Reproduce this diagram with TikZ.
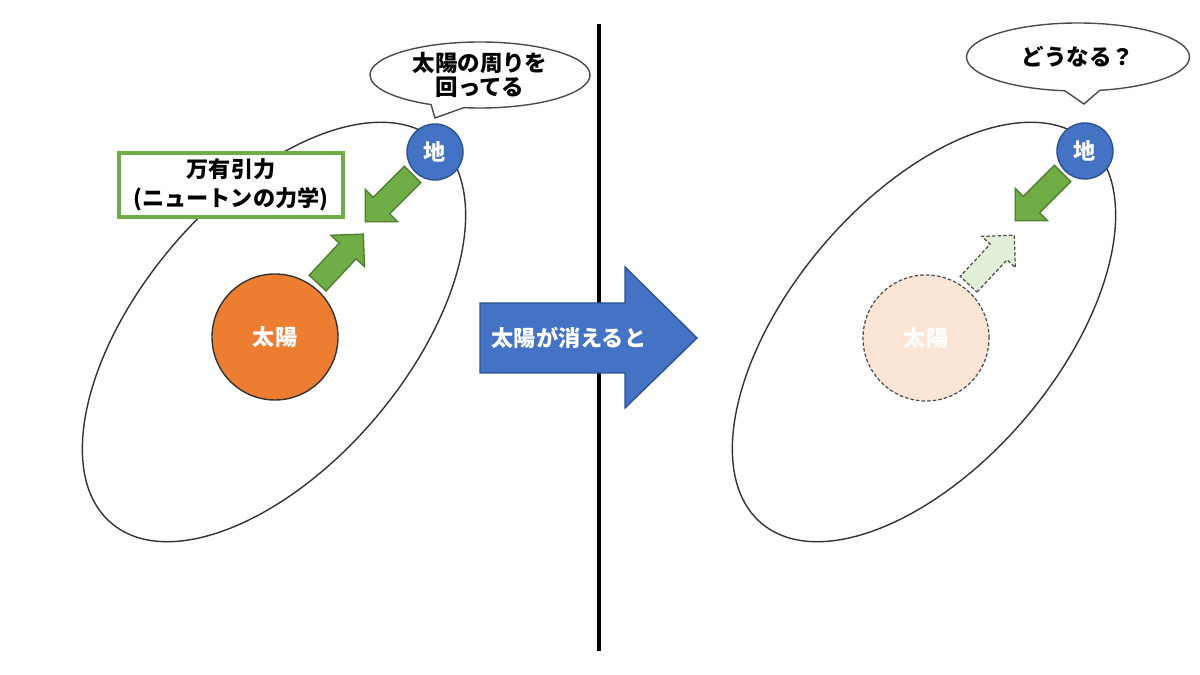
\documentclass[tikz,border=0pt]{standalone}
\usepackage{fontspec}
\setmainfont{Noto Sans CJK JP}
\usepackage{tikz}
\usetikzlibrary{shapes.geometric, shapes.callouts, positioning}
\usepackage{xcolor}
\definecolor{sunorange}{HTML}{ED7D31}
\definecolor{sunfaded}{HTML}{FBE5D6}
\definecolor{earthblue}{HTML}{4472C4}
\definecolor{earthedge}{HTML}{2F528F}
\definecolor{forcegreen}{HTML}{70AD47}
\definecolor{forceedge}{HTML}{507E32}
\definecolor{forcefaded}{HTML}{E2F0D9}
\def\leftorbit{ (2.74,3.43) ellipse (2.51 and 1.33)}
\def\rightorbit{(9.24,3.43) ellipse (2.51 and 1.33)}
\def\forcearrow{(0,-0.115) -- (0.44,-0.115) -- (0.44,-0.23) -- (0.67,0) -- (0.44,0.23) -- (0.44,0.115) -- (0,0.115) -- cycle}
\def\bigarrow{(4.80,3.02) -- (6.25,3.02) -- (6.25,2.67) -- (6.97,3.37) -- (6.25,4.08) -- (6.25,3.72) -- (4.80,3.72) -- cycle}
\tikzset{
    jp/.style = {font=\fontsize{6.3}{8.2}\selectfont\bfseries},
    sun/.style = {circle, minimum size=1.26cm, inner sep=0, text=white, jp},
    earth/.style = {circle, minimum size=0.56cm, inner sep=0, fill=earthblue, draw=earthedge, text=white, jp},
    talk/.style = {ellipse callout, draw=black!70, fill=white, inner sep=0, callout pointer arc=18, align=center, font=\fontsize{6.4}{6.6}\selectfont\bfseries},
    gone/.style = {draw=black!70, line width=0.35pt, dash pattern=on 1pt off 0.6pt}
}

\begin{document}
\begin{tikzpicture}[scale = 1.0]
    % Sfondo
    \fill[white] (0,0) rectangle (12,6.75);
    \useasboundingbox (0,0) rectangle (12,6.75);
    % Orbite
    \draw[black!80, line width=0.4pt, rotate around={49.6:(2.74,3.43)}] \leftorbit;
    \draw[black!80, line width=0.4pt, rotate around={49.6:(9.24,3.43)}] \rightorbit;
    % Linea di separazione
    \draw[line width=1.1pt] (5.99,6.51) -- (5.99,0.24);
    % Freccia centrale
    \filldraw[fill=earthblue, draw=earthedge, line width=0.4pt] \bigarrow;
    \node[text=white, jp] (vanish) at (5.69,3.37) {太陽が消えると};
    % Sinistra: sole e terra
    \node[sun, fill=sunorange, draw=black!80] (sunL) at (2.75,3.38) {太陽};
    \filldraw[fill=forcegreen, draw=forceedge, line width=0.4pt, shift={(sunL.52)}, rotate=47, xshift=0.5mm] \forcearrow;
    \node[earth] (earthL) at (4.35,5.23) {地};
    \filldraw[fill=forcegreen, draw=forceedge, line width=0.4pt, shift={(earthL.225)}, rotate=225, xshift=0.3mm] \forcearrow;
    \node[draw=forcegreen, line width=1.2pt, fill=white, minimum width=2.24cm, minimum height=0.64cm, inner sep=0, align=center, jp] (gravity) at (2.31,4.90) {万有引力\\(ニュートンの力学)};
    \node[talk, minimum width=2.2cm, minimum height=0.66cm, callout absolute pointer={(4.35,5.57)}] (talkL) at (4.80,6.00) {太陽の周りを\\回ってる};
    % Destra: sole sparito
    \node[sun, fill=sunfaded, gone] (sunR) at (9.26,3.37) {太陽};
    \filldraw[fill=forcefaded, gone, shift={(sunR.52)}, rotate=47, xshift=0.5mm] \forcearrow;
    \node[earth] (earthR) at (10.85,5.24) {地};
    \filldraw[fill=forcegreen, draw=forceedge, line width=0.4pt, shift={(earthR.225)}, rotate=225, xshift=0.3mm] \forcearrow;
    \node[talk, minimum width=2.23cm, minimum height=0.68cm, callout absolute pointer={(10.84,5.71)}] (talkR) at (10.78,6.18) {どうなる？};
\end{tikzpicture}
\end{document}
